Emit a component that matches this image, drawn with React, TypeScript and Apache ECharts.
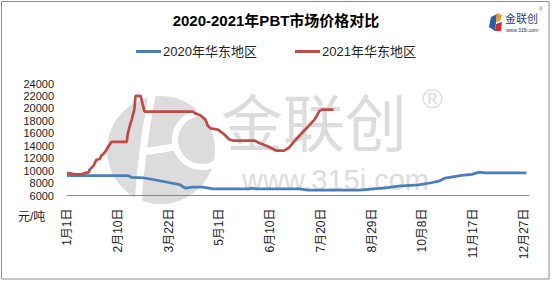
import React, { useEffect, useRef } from "react";
import * as echarts from "echarts";

const monthLengths = [31, 28, 31, 30, 31, 30, 31, 31, 30, 31, 30, 31];
const categories: string[] = [];
monthLengths.forEach((n, m) => {
  for (let d = 1; d <= n; d++) categories.push(`${m + 1}月${d}日`);
});

const seriesNames = ["2020年华东地区", "2021年华东地区"];

// [day index, price] key points
const days2020 = [0, 48, 51, 60, 71, 81, 89, 93, 99, 107, 115, 144, 145, 149, 183, 190, 230, 235, 253, 261, 277, 287, 293, 298, 311, 319, 325, 329, 362];
const price2020 = [9200, 9200, 8900, 8850, 8450, 8050, 7750, 7200, 7350, 7350, 7050, 7050, 7200, 7050, 7050, 6850, 6850, 6950, 7250, 7500, 7700, 8050, 8300, 8800, 9250, 9400, 9750, 9650, 9650];

const days2021 = [0, 4, 6, 12, 14, 17, 18, 21, 23, 26, 27, 30, 33, 35, 47, 48, 50, 51, 53, 54, 58, 61, 99, 101, 105, 109, 111, 113, 119, 124, 128, 131, 148, 152, 158, 165, 171, 175, 179, 184, 190, 195, 199, 201, 210];
const price2021 = [9600, 9500, 9400, 9400, 9600, 9700, 10200, 10800, 11700, 11900, 12400, 13000, 14000, 14600, 14600, 16000, 17600, 18200, 19800, 22000, 22000, 19500, 19500, 19200, 18900, 18200, 17200, 16800, 16600, 15800, 15000, 14800, 14800, 14400, 13900, 13200, 13200, 13700, 14700, 15800, 17100, 18200, 19600, 19800, 19800];

const yMin = 6000;
const yMax = 24000;
const yStep = 2000;

const FONT = "'Liberation Sans', 'Noto Sans CJK SC', sans-serif";

export default function App() {
  const ref = useRef<HTMLDivElement>(null);
  useEffect(() => {
    if (!ref.current) return;
    const chart = echarts.init(ref.current, undefined, { renderer: "svg" });
    const wmColor = "#dcdcdc";
    chart.setOption({
      animation: false,
      backgroundColor: "#ffffff",
      title: {
        text: "2020-2021年PBT市场价格对比",
        left: "center",
        top: 8,
        textStyle: { fontFamily: FONT, fontSize: 15, fontWeight: "bold", color: "#000" },
      },
      legend: {
        top: 40,
        left: "center",
        itemWidth: 25,
        itemHeight: 3,
        itemGap: 38,
        icon: "rect",
        textStyle: { fontFamily: FONT, fontSize: 13, color: "#222", padding: [0, 0, 0, -3] },
        data: seriesNames,
      },
      grid: { left: 67, right: 23, top: 83.5, height: 112, containLabel: false },
      xAxis: {
        type: "category",
        boundaryGap: false,
        data: categories,
        axisLine: { lineStyle: { color: "#888", width: 1 } },
        axisTick: { show: false },
        axisLabel: {
          interval: 39,
          rotate: 90,
          margin: 13,
          fontFamily: FONT,
          fontSize: 12,
          color: "#222",
        },
      },
      yAxis: {
        type: "value",
        min: yMin,
        max: yMax,
        interval: yStep,
        axisLine: { show: false },
        axisTick: { show: false },
        splitLine: { show: false },
        axisLabel: {
          fontFamily: FONT,
          fontSize: 11,
          lineHeight: 11,
          color: "#222",
          margin: 13,
          formatter: (v: number) => String(v),
        },
      },
      graphic: [
        {
          type: "rect",
          shape: { x: 1.5, y: 1.5, width: 547.5, height: 277.5 },
          style: { fill: "none", stroke: "#8c8c8c", lineWidth: 1 },
          z: 100,
        },
        // watermark
        { type: "circle", shape: { cx: 161, cy: 150, r: 54 }, style: { fill: wmColor }, z: -10 },
        { type: "ring", shape: { cx: 202, cy: 140, r: 30, r0: 24 }, style: { fill: "#fff" }, z: -9 },
        {
          type: "polyline",
          shape: { points: [[152, 95], [146, 130], [143, 152], [140, 178], [138, 205]] },
          style: { stroke: "#fff", lineWidth: 7, fill: "none" },
          z: -9,
        },
        {
          type: "polyline",
          shape: { points: [[143, 152], [175, 147]] },
          style: { stroke: "#fff", lineWidth: 7, fill: "none" },
          z: -9,
        },
        {
          type: "text",
          x: 221,
          y: 94,
          style: {
            text: "金联创",
            fontFamily: FONT,
            fontSize: 62,
            lineHeight: 62,
            fill: wmColor,
          },
          z: -10,
        },
        {
          type: "text",
          x: 422,
          y: 84,
          style: { text: "®", fontFamily: FONT, fontSize: 28, lineHeight: 28, fill: wmColor },
          z: -10,
        },
        {
          type: "text",
          x: 242,
          y: 165,
          style: { text: "www.315i.com", fontFamily: FONT, fontSize: 29, lineHeight: 29, fill: wmColor },
          z: -10,
        },
        // top-right logo
        { type: "polygon", shape: { points: [[491, 17], [497, 14], [495, 31], [489, 27]] }, style: { fill: "#2a5caa" } },
        { type: "polygon", shape: { points: [[497, 13], [502, 15], [500, 21], [496, 22]] }, style: { fill: "#f39a1e" } },
        { type: "polygon", shape: { points: [[496, 24], [502, 22], [501, 31], [495, 31]] }, style: { fill: "#d7282f" } },
        {
          type: "text",
          x: 505,
          y: 12,
          style: { text: "金联创", fontFamily: "'Noto Sans CJK SC', sans-serif", fontSize: 11, lineHeight: 12, fill: "#1d3f8c" },
        },
        {
          type: "text",
          x: 506,
          y: 27,
          style: { text: "www.315i.com", fontFamily: FONT, fontSize: 5, lineHeight: 5, fill: "#333" },
        },
        {
          type: "text",
          x: 539,
          y: 6,
          style: { text: "®", fontFamily: FONT, fontSize: 5, lineHeight: 5, fill: "#666" },
        },
        {
          type: "text",
          x: 18,
          y: 211,
          style: { text: "元/吨", fontFamily: FONT, fontSize: 12, fill: "#222" },
        },
      ],
      series: [
        {
          name: seriesNames[0],
          type: "line",
          showSymbol: false,
          symbol: "none",
          color: "#4a7ebb",
          lineStyle: { width: 2.75, color: "#4a7ebb" },
          data: days2020.map((d, i) => [d, price2020[i]]),
        },
        {
          name: seriesNames[1],
          type: "line",
          showSymbol: false,
          symbol: "none",
          color: "#be4b48",
          lineStyle: { width: 2.75, color: "#be4b48" },
          data: days2021.map((d, i) => [d, price2021[i]]),
        },
      ],
    });
    return () => chart.dispose();
  }, []);
  return (
    <div
      ref={ref}
      style={{ position: "fixed", left: 0, top: 0, width: 552, height: 282, background: "#fff" }}
    />
  );
}
